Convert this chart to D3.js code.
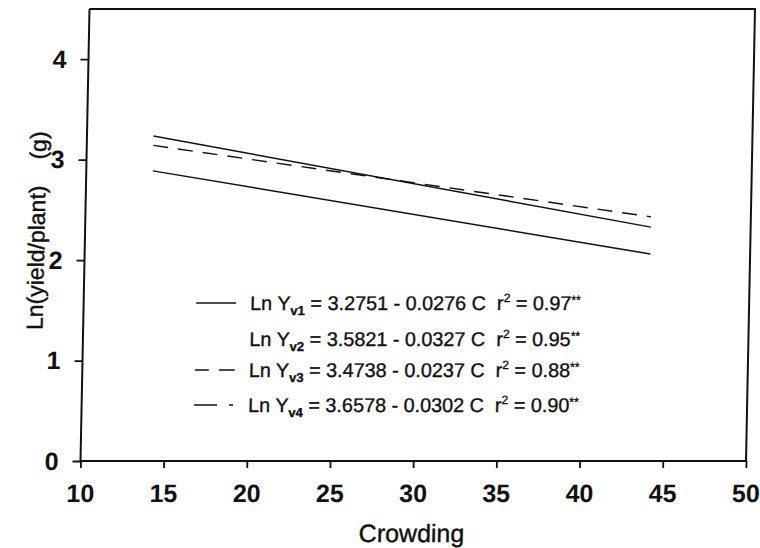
<!DOCTYPE html>
<html><head><meta charset="utf-8">
<script src="https://cdn.jsdelivr.net/npm/d3@7"></script>
<style>
html,body{margin:0;padding:0;background:#fff;}
svg{display:block;}
text{font-family:"Liberation Sans",Arial,Helvetica,sans-serif;fill:#111;white-space:pre;}
</style></head>
<body>
<svg id="chart" width="760" height="548"></svg>
<script>
// ---- data ----
const xTicks = [10, 15, 20, 25, 30, 35, 40, 45, 50];
const yTicks = [0, 1, 2, 3, 4];
const crowdingRange = [14, 44];            // C at start and end of each fitted line
const lineV1 = [2.889, 2.061];             // Ln Y at C=14 and C=44
const lineV3 = [3.142, 2.431];
const lineV4 = [3.235, 2.329];
const seriesNames = ["V1", "V2", "V3", "V4"];
const intercepts = ["3.2751", "3.5821", "3.4738", "3.6578"];
const slopes = ["0.0276", "0.0327", "0.0237", "0.0302"];
const r2 = ["0.97", "0.95", "0.88", "0.90"];
const xLabel = "Crowding";
const yLabelMain = "Ln(yield/plant)";
const yLabelUnit = "(g)";

const svg = d3.select("#chart");
const L = 80.5, R = 746, T = 9, B = 461;
const x = d3.scaleLinear().domain([10, 50]).range([L, R]);
const y = d3.scaleLinear().domain([0, 4.5]).range([B, T]);

// slight shear like the scanned page
const g = svg.append("g")
  .attr("transform", `translate(0,${B}) skewX(-1.14) translate(0,${-B})`);

// frame (top & right)
g.append("path")
  .attr("d", `M${L},${T} H${R} V${B}`)
  .attr("fill", "none").attr("stroke", "#111").attr("stroke-width", 2);

// axes
const xAxis = d3.axisBottom(x).tickValues(xTicks).tickSize(7).tickPadding(16).tickFormat(d3.format("d"));
const yAxis = d3.axisLeft(y).tickValues(yTicks).tickSize(8).tickPadding(14).tickFormat(d3.format("d"));

const gx = g.append("g").attr("transform", `translate(0,${B})`).call(xAxis);
const gy = g.append("g").attr("transform", `translate(${L},0)`).call(yAxis);
[gx, gy].forEach(a => {
  a.select(".domain").attr("stroke", "#111").attr("stroke-width", 2);
  a.selectAll(".tick line").attr("stroke", "#111").attr("stroke-width", 1.8);
  a.selectAll(".tick text")
    .attr("font-size", 25).attr("font-weight", "bold")
    .attr("font-family", "'Liberation Sans',Arial,sans-serif").attr("fill", "#111");
});
gy.select(".domain").attr("d", `M0,${T}V${B}`);
gx.select(".domain").attr("d", `M${L},0H${R}`);

// axis titles
g.append("text").attr("x", 413).attr("y", 542).attr("text-anchor", "middle")
  .attr("font-size", 25).attr("stroke", "#111").attr("stroke-width", 0.4).text(xLabel);
const yl = g.append("text").attr("transform", "translate(40,330) rotate(-90)")
  .attr("text-anchor", "start").attr("font-size", 23)
  .attr("stroke", "#111").attr("stroke-width", 0.4);
yl.append("tspan").text(yLabelMain);
yl.append("tspan").attr("dx", 26).text(yLabelUnit);

// fitted lines
const line = d3.line().x(d => x(d[0])).y(d => y(d[1]));
const mk = arr => crowdingRange.map((c, i) => [c, arr[i]]);
const lines = [
  {data: mk(lineV4), dash: null},
  {data: mk(lineV3), dash: "15,10"},
  {data: mk(lineV1), dash: null}
];
g.selectAll(".fit").data(lines).enter().append("path")
  .attr("class", "fit")
  .attr("d", d => line(d.data))
  .attr("fill", "none").attr("stroke", "#111").attr("stroke-width", 1.4)
  .attr("stroke-dasharray", d => d.dash);

// legend
const rowsY = [310, 346, 377, 412];
const samples = [
  [[193, 233]],
  [],
  [[193, 207], [217, 233]],
  [[193, 216], [228, 232]]
];
const lg = g.append("g");
seriesNames.forEach((name, i) => {
  samples[i].forEach(s => {
    lg.append("line").attr("x1", s[0]).attr("x2", s[1])
      .attr("y1", rowsY[i] - 7).attr("y2", rowsY[i] - 7)
      .attr("stroke", "#111").attr("stroke-width", 1.4);
  });
  const t = lg.append("text").attr("x", 247).attr("y", rowsY[i])
    .attr("font-size", 19.8).attr("stroke", "#111").attr("stroke-width", 0.35);
  t.append("tspan").text("Ln Y");
  t.append("tspan").attr("font-size", 13).attr("font-weight", "bold").attr("dy", 5).text(name.toLowerCase());
  t.append("tspan").attr("dy", -5).text(` = ${intercepts[i]} - ${slopes[i]} C  r`);
  t.append("tspan").attr("font-size", 12).attr("dy", -8).text("2");
  t.append("tspan").attr("dy", 8).text(` = ${r2[i]}`);
  t.append("tspan").attr("font-size", 12).attr("dy", -6).text("**");
});
</script>
</body></html>
